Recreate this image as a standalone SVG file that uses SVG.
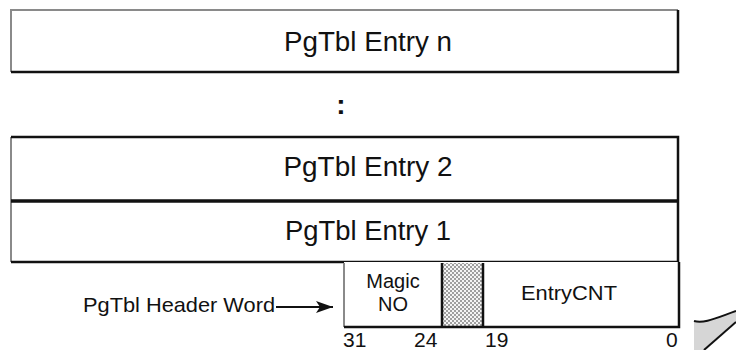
<svg xmlns="http://www.w3.org/2000/svg" width="736" height="350" viewBox="0 0 736 350">
<style>
.lbl{font-family:"Liberation Sans",Arial,sans-serif;font-size:21px;fill:#111}
.mg{font-family:"Liberation Sans",Arial,sans-serif;font-size:20px;fill:#111;text-anchor:middle}
.ent{font-family:"Liberation Sans",Arial,sans-serif;font-size:27px;fill:#111;text-anchor:middle}
.dk{stroke:#111;stroke-width:2.5;fill:none}
.lt{stroke:#8a8a8a;stroke-width:2;fill:none}
</style>
<defs>
<pattern id="dots" width="4" height="4" patternUnits="userSpaceOnUse">
<rect width="4" height="4" fill="#f4f4f4"/>
<circle cx="1" cy="1" r="0.8" fill="#333"/>
<circle cx="3" cy="3" r="0.8" fill="#333"/>
</pattern>
<marker id="ah" markerWidth="18" markerHeight="12" refX="17" refY="6" orient="auto" markerUnits="userSpaceOnUse">
<path d="M0,0 L17,6 L0,12 L4,6 Z" fill="#111"/>
</marker>
</defs>
<rect width="736" height="350" fill="#fff"/>

<g id="entry-n">
<rect x="11" y="10" width="667" height="62" fill="#fff"/>
<path class="lt" d="M11,72 L11,10 L678,10"/>
<path class="dk" d="M678,10 L678,72 L11,72"/>
<text class="ent" x="368" y="51" textLength="168" lengthAdjust="spacingAndGlyphs">PgTbl Entry n</text>
</g>

<g id="ellipsis">
<text x="341" y="114" font-family="Liberation Sans,Arial,sans-serif" font-size="28" font-weight="bold" text-anchor="middle" fill="#111">:</text>
</g>

<g id="entry-2">
<rect x="11" y="137" width="667" height="64" fill="#fff"/>
<path class="lt" d="M11,201 L11,137"/>
<path class="dk" d="M11,137 L678,137 L678,201"/>
<text class="ent" x="368" y="176" textLength="169" lengthAdjust="spacingAndGlyphs">PgTbl Entry 2</text>
</g>

<g id="entry-1">
<rect x="11" y="201" width="667" height="61" fill="#fff"/>
<path class="lt" d="M11,262 L11,201"/>
<path d="M11,201 L678,201" stroke="#111" stroke-width="3.5"/>
<path class="dk" d="M678,201 L678,262 L11,262"/>
<text class="ent" x="368" y="240" textLength="166" lengthAdjust="spacingAndGlyphs">PgTbl Entry 1</text>
</g>

<g id="header-word">
<rect x="344" y="262" width="335" height="65" fill="#fff"/>
<rect x="442" y="263" width="41" height="63" fill="url(#dots)"/>
<path class="lt" d="M344,327 L344,263"/>
<path class="dk" d="M679,262 L679,327 L344,327"/>
<path d="M442,263 L442,327 M483,263 L483,327" stroke="#111" stroke-width="2.5"/>
<text class="mg" x="393" y="288">Magic</text>
<text class="mg" x="393" y="311">NO</text>
<text class="lbl" x="521" y="300" textLength="96" lengthAdjust="spacingAndGlyphs">EntryCNT</text>
<text class="lbl" x="343" y="347">31</text>
<text class="lbl" x="414" y="347">24</text>
<text class="lbl" x="485" y="347">19</text>
<text class="lbl" x="666" y="347">0</text>
</g>

<g id="header-label">
<text class="lbl" x="83" y="312" textLength="192" lengthAdjust="spacingAndGlyphs">PgTbl Header Word</text>
</g>

<g id="connectors">
<line x1="276" y1="307" x2="333" y2="307" stroke="#111" stroke-width="1.8" marker-end="url(#ah)"/>
</g>

<g id="page-curl">
<path d="M694,321 C704,324 716,318 736,311 L736,322 L704,350 L694,350 Z" fill="#d6d6d6"/>
<path d="M694,321 C704,324 716,318 736,311" stroke="#111" stroke-width="2" fill="none"/>
<path d="M704,350 L736,322" stroke="#111" stroke-width="2" fill="none"/>
</g>
</svg>
